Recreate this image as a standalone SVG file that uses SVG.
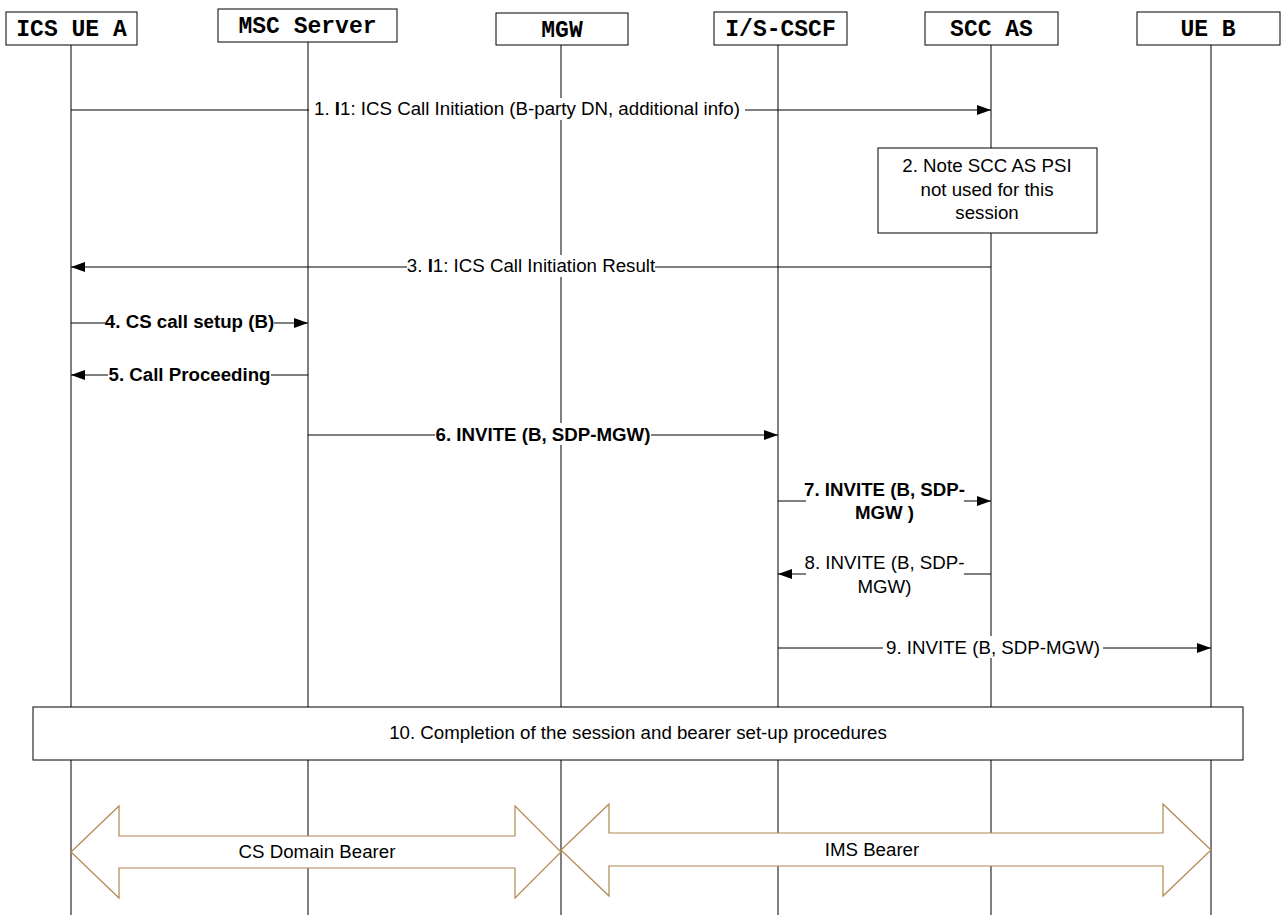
<svg xmlns="http://www.w3.org/2000/svg" width="1281" height="915" viewBox="0 0 1281 915">
<style>
.hdr{fill:#fff;stroke:#000;stroke-width:1}
.ht{font-family:"Liberation Mono",monospace;font-weight:bold;font-size:23px;text-anchor:middle}
.life{stroke:#000;stroke-width:1}
.msg{stroke:#000;stroke-width:1;fill:none}
.lbl{font-family:"Liberation Sans",Arial,sans-serif;font-size:18.7px;text-anchor:middle}
.b{font-weight:bold}
.bg{fill:#fff}
.note{fill:#fff;stroke:#000;stroke-width:1}
.bearer{fill:#fff;stroke:#b08850;stroke-width:1.2}
</style>
<defs>
<marker id="ah" markerWidth="14" markerHeight="10" refX="14" refY="5" orient="auto" markerUnits="userSpaceOnUse">
<path d="M0,0 L14,5 L0,10 Z" fill="#000"/>
</marker>
</defs>
<rect width="1281" height="915" fill="#fff"/>
<g id="lifelines">
<line class="life" x1="71" y1="45" x2="71" y2="915"/>
<line class="life" x1="308" y1="42" x2="308" y2="915"/>
<line class="life" x1="561" y1="45" x2="561" y2="915"/>
<line class="life" x1="778" y1="45" x2="778" y2="915"/>
<line class="life" x1="991" y1="45" x2="991" y2="915"/>
<line class="life" x1="1211" y1="45" x2="1211" y2="915"/>
</g>
<g id="node-icsuea"><rect class="hdr" x="6" y="12" width="131" height="33"/><text class="ht" x="71.5" y="36">ICS UE A</text></g>
<g id="node-msc"><rect class="hdr" x="218" y="9" width="179" height="33"/><text class="ht" x="307.5" y="33">MSC Server</text></g>
<g id="node-mgw"><rect class="hdr" x="496" y="13" width="132" height="32"/><text class="ht" x="562" y="37">MGW</text></g>
<g id="node-cscf"><rect class="hdr" x="714" y="12" width="133" height="33"/><text class="ht" x="780.5" y="36">I/S-CSCF</text></g>
<g id="node-sccas"><rect class="hdr" x="925" y="12" width="133" height="33"/><text class="ht" x="991.5" y="36">SCC AS</text></g>
<g id="node-ueb"><rect class="hdr" x="1137" y="12" width="143" height="33"/><text class="ht" x="1208" y="36">UE B</text></g>
<g id="connectors">
<line class="msg" x1="71" y1="110" x2="991" y2="110" marker-end="url(#ah)"/>
<line class="msg" x1="991" y1="267" x2="71" y2="267" marker-end="url(#ah)"/>
<line class="msg" x1="71" y1="323" x2="308" y2="323" marker-end="url(#ah)"/>
<line class="msg" x1="308" y1="375" x2="71" y2="375" marker-end="url(#ah)"/>
<line class="msg" x1="308" y1="435" x2="778" y2="435" marker-end="url(#ah)"/>
<line class="msg" x1="778" y1="501" x2="991" y2="501" marker-end="url(#ah)"/>
<line class="msg" x1="991" y1="574" x2="778" y2="574" marker-end="url(#ah)"/>
<line class="msg" x1="778" y1="648" x2="1211" y2="648" marker-end="url(#ah)"/>
</g>
<g id="labels">
<rect class="bg" x="309" y="98" width="436" height="22"/>
<text class="lbl" x="527" y="115">1. <tspan class="b">I</tspan>1: ICS Call Initiation (B-party DN, additional info)</text>
<rect class="bg" x="407" y="255" width="248" height="22"/>
<text class="lbl" x="531" y="272">3. <tspan class="b">I</tspan>1: ICS Call Initiation Result</text>
<rect class="bg" x="105" y="311" width="169" height="22"/>
<text class="lbl b" x="189.5" y="328">4. CS call setup (B)</text>
<rect class="bg" x="108" y="363" width="163" height="22"/>
<text class="lbl b" x="189.5" y="381">5. Call Proceeding</text>
<rect class="bg" x="435" y="423" width="216" height="22"/>
<text class="lbl b" x="543" y="441">6. INVITE (B, SDP-MGW)</text>
<rect class="bg" x="806" y="477" width="158" height="46"/>
<text class="lbl b" x="884.5" y="496">7. INVITE (B, SDP-</text>
<text class="lbl b" x="884.5" y="519">MGW )</text>
<rect class="bg" x="806" y="550" width="158" height="46"/>
<text class="lbl" x="884.5" y="569">8. INVITE (B, SDP-</text>
<text class="lbl" x="884.5" y="593">MGW)</text>
<rect class="bg" x="883" y="636" width="220" height="22"/>
<text class="lbl" x="993" y="654">9. INVITE (B, SDP-MGW)</text>
</g>
<g id="node-note2">
<rect class="note" x="878" y="148" width="219" height="85"/>
<text class="lbl" x="987" y="172">2. Note SCC AS PSI</text>
<text class="lbl" x="987" y="196">not used for this</text>
<text class="lbl" x="987" y="219">session</text>
</g>
<g id="node-step10">
<rect class="note" x="33" y="707" width="1210" height="53"/>
<text class="lbl" x="638" y="739">10. Completion of the session and bearer set-up procedures</text>
</g>
<g id="node-csbearer">
<path class="bearer" d="M71,852 L119,806 L119,836 L515,836 L515,806 L561,852 L515,898 L515,868 L119,868 L119,898 Z"/>
<text class="lbl" x="317" y="858">CS Domain Bearer</text>
</g>
<g id="node-imsbearer">
<path class="bearer" d="M561,850 L609,804 L609,833 L1163,833 L1163,804 L1211,850 L1163,896 L1163,866 L609,866 L609,896 Z"/>
<text class="lbl" x="872" y="856">IMS Bearer</text>
</g>
</svg>
